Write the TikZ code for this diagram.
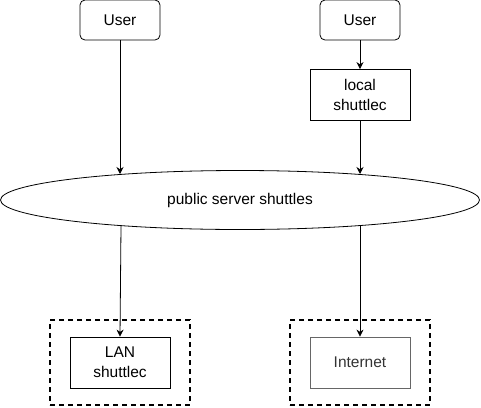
\documentclass[tikz,border=0pt]{standalone}
\usepackage{fontspec}
\setmainfont{Liberation Sans}
\usetikzlibrary{arrows.meta,shapes.geometric}

\tikzset{
  user/.style={draw, rounded corners=5pt, minimum width=80pt, minimum height=40pt, inner sep=0pt},
  proc/.style={draw, minimum width=100pt, minimum height=51pt, inner sep=0pt, align=center},
  zone/.style={draw, dashed, dash pattern=on 5pt off 4pt, line width=1.3pt, minimum width=140pt, minimum height=85pt, inner sep=0pt},
  flow/.style={-{Stealth[length=7pt,width=7pt]}},
}

\begin{document}
\begin{tikzpicture}[x=1pt, y=-1pt, line width=0.8pt, font=\fontsize{15.5}{20}\selectfont]
\useasboundingbox (0,0) rectangle (481,407);

% Define nodes
\path (120,20)
node[user] (U1) {User}
(360,20) node[user] (U2) {User}
(360,95) node[proc] (local) {local\\shuttlec}
(240,200) node[ellipse, draw, minimum width=479pt, minimum height=59pt, inner sep=0pt] (pub) {public server shuttles}
(120,362.5) node[zone] (Z1) {}
(360,362.5) node[zone] (Z2) {}
(120,362.5) node[proc] (lan) {LAN\\shuttlec}
(360,362.5) node[proc, draw=black!60, text=black!80] (net) {Internet}
% points on the ellipse
(120,174) coordinate (in1)
(360,174) coordinate (in2)
(121,226) coordinate (out1)
(360,226) coordinate (out2)
;

% Edges
\draw[flow] (U1) -- (in1);
\draw[flow] (U2) -- (local);
\draw[flow] (local) -- (in2);
\draw[flow] (out1) -- (lan.north);
\draw[flow] (out2) -- (net.north);

\end{tikzpicture}
\end{document}
